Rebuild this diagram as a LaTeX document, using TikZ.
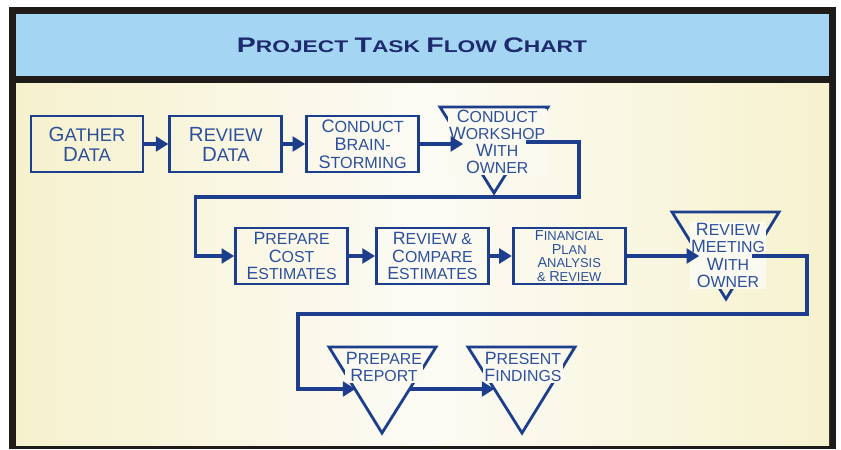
\documentclass[tikz,border=0pt]{standalone}
\usepackage{fontspec}
\setmainfont{Liberation Sans}
\usepackage{tikz}
\usetikzlibrary{arrows.meta,positioning}

\definecolor{flowblue}{RGB}{28,62,140}
\definecolor{textblue}{RGB}{44,80,155}
\definecolor{titleblue}{RGB}{164,214,243}
\definecolor{titleink}{RGB}{30,42,110}
\definecolor{framecol}{RGB}{30,27,25}
\definecolor{paperl}{RGB}{246,241,205}
\definecolor{paperm}{RGB}{252,251,245}
\definecolor{paperr}{RGB}{246,242,206}
\definecolor{paper}{RGB}{251,250,241}

% enlarged first letter of a word
\newcommand{\initcap}[2][1.12]{\scalebox{#1}{#2}}

\begin{document}
\begin{tikzpicture}[
    box/.style={rectangle, draw=flowblue, line width=2pt, minimum width=2.8cm, minimum height=1.4cm, inner sep=0pt, align=center, text=textblue, font=\fontsize{11.3}{12.2}\selectfont},
    tri/.style={draw=flowblue, line width=2pt},
    trilabel/.style={fill=paper, inner sep=1pt, align=center, text=textblue, font=\fontsize{11.3}{12.2}\selectfont},
    arrow/.style={-{Triangle[length=9pt,width=10.5pt]}, draw=flowblue, line width=2.4pt},
    node distance=0.6cm
]
    \useasboundingbox (0,0) rectangle (21.025,11.225);

    % frame, title bar and background
    \fill[framecol] (0.225,0) rectangle (20.9,11.05);
    \fill[titleblue] (0.4,9.325) rectangle (20.725,10.875);
    \shade[left color=paperl, right color=paperr, middle color=paperm] (0.4,0.1) rectangle (20.725,9.125);

    \node[font=\bfseries\fontsize{12}{14}\selectfont, text=titleink] (title) at (10.3,10.1)
        {\scalebox{1.35}[1]{\initcap[1.25]{P}ROJECT \initcap[1.25]{T}ASK \initcap[1.25]{F}LOW \initcap[1.25]{C}HART}};

    % triangles
    \draw[tri] (11.0,8.55) -- (13.7,8.55) -- (12.35,6.4) -- cycle;
    \draw[tri] (16.8,5.925) -- (19.475,5.925) -- (18.15,3.75) -- cycle;
    \draw[tri] (8.225,2.55) -- (10.9,2.55) -- (9.55,0.4) -- cycle;
    \draw[tri] (11.7,2.55) -- (14.375,2.55) -- (13.05,0.4) -- cycle;

    % first row
    \node[box, font=\fontsize{13}{14.2}\selectfont] (gather) at (2.175,7.625) {\initcap{G}ATHER\\\initcap{D}ATA};
    \node[box, font=\fontsize{13}{14.2}\selectfont, right=of gather] (revdata) {\initcap{R}EVIEW\\\initcap{D}ATA};
    \node[box, font=\fontsize{11.5}{12.8}\selectfont, right=0.55cm of revdata] (brain) {\initcap{C}ONDUCT\\\initcap{B}RAIN-\\\initcap{S}TORMING};
    \node[trilabel] (workshop) at (12.43,7.675) {\initcap{C}ONDUCT\\\initcap{W}ORKSHOP\\\initcap{W}ITH\\\initcap{O}WNER};

    % second row
    \node[box] (cost) at (7.29,4.825) {\initcap{P}REPARE\\\initcap{C}OST\\\initcap{E}STIMATES};
    \node[box, right=0.65cm of cost] (compare) {\initcap{R}EVIEW \& \\\initcap{C}OMPARE\\\initcap{E}STIMATES};
    \node[box, font=\fontsize{9.2}{9.6}\selectfont, right=0.55cm of compare] (finance) {\initcap{F}INANCIAL\\\initcap{P}LAN\\\initcap{A}NALYSIS\\\& \initcap{R}EVIEW};
    \node[trilabel] (meeting) at (18.2,4.84) {\initcap{R}EVIEW\\\initcap{M}EETING\\\initcap{W}ITH\\\initcap{O}WNER};

    % third row
    \node[trilabel] (report) at (9.6,2.06) {\initcap{P}REPARE\\\initcap{R}EPORT};
    \node[trilabel] (findings) at (13.075,2.06) {\initcap{P}RESENT\\\initcap{F}INDINGS};

    % where the connectors meet the triangle sides
    \coordinate (ws-in) at (11.58,7.625);
    \coordinate (ws-out) at (13.15,7.675);
    \coordinate (rm-in) at (17.48,4.825);
    \coordinate (rm-out) at (18.79,4.825);
    \coordinate (pr-in) at (8.885,1.5);
    \coordinate (pr-out) at (10.24,1.5);
    \coordinate (pf-in) at (12.36,1.5);

    \draw[arrow] (gather) -- (revdata);
    \draw[arrow] (revdata) -- (brain);
    \draw[arrow] (brain) -- (ws-in);
    \draw[arrow] (ws-out) -- ++(1.325,0) -- ++(0,-1.375) -| ([xshift=-0.965cm]cost.west) -- (cost);
    \draw[arrow] (cost) -- (compare);
    \draw[arrow] (compare) -- (finance);
    \draw[arrow] (finance) -- (rm-in);
    \draw[arrow] (rm-out) -- ++(1.385,0) -- ++(0,-1.45) -| ([xshift=-1.435cm]pr-in) -- (pr-in);
    \draw[arrow] (pr-out) -- (pf-in);
\end{tikzpicture}
\end{document}
